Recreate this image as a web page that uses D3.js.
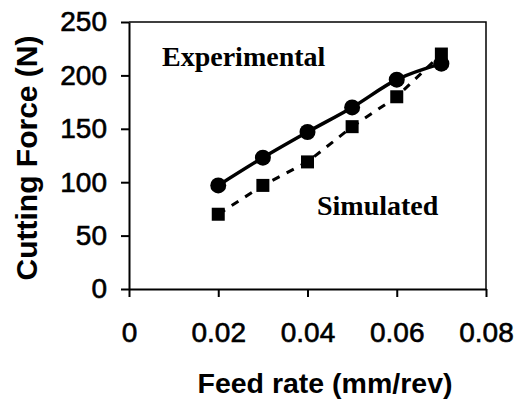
<!DOCTYPE html>
<html>
<head>
<meta charset="utf-8">
<script src="https://cdn.jsdelivr.net/npm/d3@7"></script>
<style>
  body { margin: 0; background: #fff; }
  .axis text { font-family: 'Liberation Sans', Arial, sans-serif; font-size: 28px; fill: #000; stroke: #000; stroke-width: 0.6px; }
  .axis path, .axis line { stroke: #000; stroke-width: 2px; }
  .title { font-family: 'Liberation Sans', Arial, sans-serif; font-weight: bold; fill: #000; }
  .note { font-family: 'Liberation Serif', 'Times New Roman', serif; font-weight: bold; font-size: 28px; fill: #000; }
</style>
</head>
<body>
<script>
var feed = [0.02, 0.03, 0.04, 0.05, 0.06, 0.07]
var experimental = [97, 123, 147, 170, 196, 211]
var simulated = [70, 97, 119, 152, 180, 220]
var xTicks = [0, 0.02, 0.04, 0.06, 0.08]
var yTicks = [0, 50, 100, 150, 200, 250]

var margin = {top: 22, right: 33, bottom: 113, left: 129}
var width = 519 - margin.left - margin.right
var height = 402 - margin.top - margin.bottom

var x = d3.scaleLinear().domain([0, 0.08]).range([0, width])
var y = d3.scaleLinear().domain([0, 250]).range([height, 0])

var svg = d3.select('body').append('svg')
  .attr('width', 519)
  .attr('height', 402)
  .append('g')
  .attr('transform', 'translate(' + margin.left + ',' + margin.top + ')')

// frame (top and right)
svg.append('path')
  .attr('d', 'M0,0H' + width + 'V' + height)
  .attr('fill', 'none')
  .attr('stroke', '#000')
  .attr('stroke-width', 1.5)

svg.append('g')
  .attr('class', 'x axis')
  .attr('transform', 'translate(0,' + height + ')')
  .call(d3.axisBottom(x).tickValues(xTicks).tickSize(8).tickSizeOuter(0).tickPadding(25)
    .tickFormat(function (d) { return d === 0 ? '0' : d3.format('.2f')(d) }))

svg.append('g')
  .attr('class', 'y axis')
  .call(d3.axisLeft(y).tickValues(yTicks).tickSize(8).tickSizeOuter(0).tickPadding(14))

var rows = feed.map(function (f, i) {
  return {f: f, e: experimental[i], s: simulated[i]}
})

var lineE = d3.line()
  .x(function (d) { return x(d.f) })
  .y(function (d) { return y(d.e) })
  .curve(d3.curveMonotoneX)

var lineS = d3.line()
  .x(function (d) { return x(d.f) })
  .y(function (d) { return y(d.s) })

svg.append('path')
  .datum(rows)
  .attr('d', lineS)
  .attr('fill', 'none')
  .attr('stroke', '#000')
  .attr('stroke-width', 3)
  .attr('stroke-dasharray', '8,8')

svg.append('path')
  .datum(rows)
  .attr('d', lineE)
  .attr('fill', 'none')
  .attr('stroke', '#000')
  .attr('stroke-width', 3.5)

svg.selectAll('.sq')
  .data(rows)
  .enter().append('rect')
  .attr('class', 'sq')
  .attr('x', function (d) { return x(d.f) - 6.5 })
  .attr('y', function (d) { return y(d.s) - 6.5 })
  .attr('width', 13)
  .attr('height', 13)
  .attr('fill', '#000')

svg.selectAll('.dot')
  .data(rows)
  .enter().append('circle')
  .attr('class', 'dot')
  .attr('cx', function (d) { return x(d.f) })
  .attr('cy', function (d) { return y(d.e) })
  .attr('r', 8)
  .attr('fill', '#000')

svg.append('text')
  .attr('class', 'note')
  .attr('x', 33)
  .attr('y', 44)
  .text('Experimental')

svg.append('text')
  .attr('class', 'note')
  .attr('x', 188)
  .attr('y', 193)
  .text('Simulated')

svg.append('text')
  .attr('class', 'title')
  .attr('x', 196)
  .attr('y', 371)
  .attr('text-anchor', 'middle')
  .style('font-size', '28.5px')
  .text('Feed rate (mm/rev)')

svg.append('text')
  .attr('class', 'title')
  .attr('transform', 'rotate(-90)')
  .attr('x', -(158 - margin.top))
  .attr('y', 37 - margin.left)
  .attr('text-anchor', 'middle')
  .style('font-size', '30px')
  .text('Cutting Force (N)')
</script>
</body>
</html>
